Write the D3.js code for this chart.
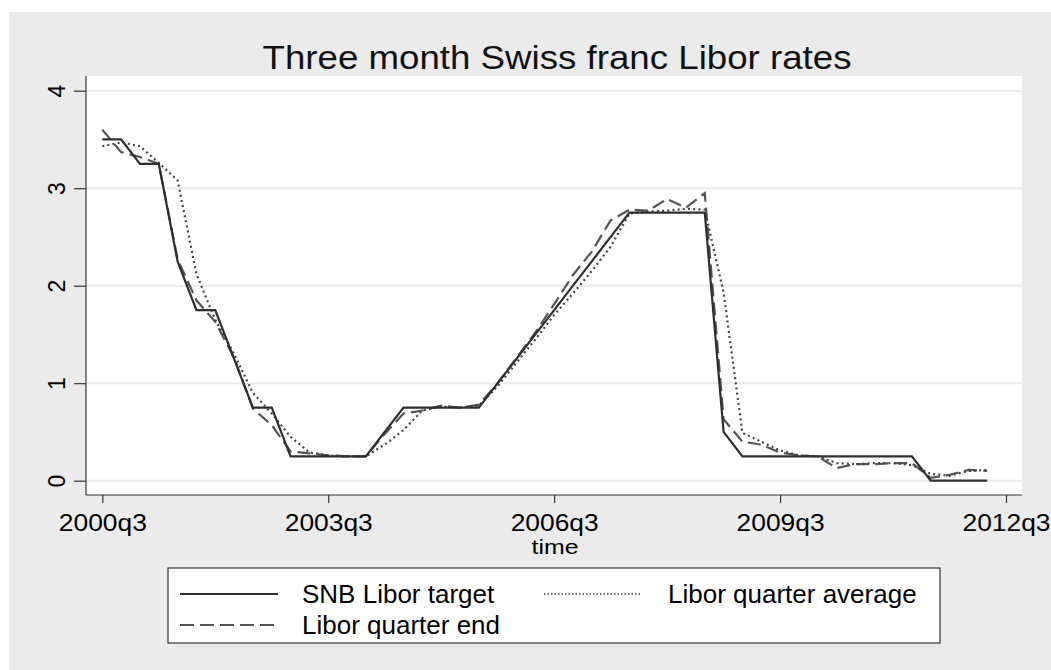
<!DOCTYPE html>
<html><head><meta charset="utf-8">
<script src="https://cdn.jsdelivr.net/npm/d3@7"></script>
<style>
body{margin:0;background:#fff;}
svg{display:block;font-family:"Liberation Sans",Arial,Helvetica,sans-serif;}
</style>
</head><body>
<svg id="chart" width="1051" height="670"></svg>
<script>
// ---------- data ----------
const quarters = ["2000q3","2000q4","2001q1","2001q2","2001q3","2001q4","2002q1","2002q2","2002q3","2002q4",
  "2003q1","2003q2","2003q3","2003q4","2004q1","2004q2","2004q3","2004q4","2005q1","2005q2",
  "2005q3","2005q4","2006q1","2006q2","2006q3","2006q4","2007q1","2007q2","2007q3","2007q4",
  "2008q1","2008q2","2008q3","2008q4","2009q1","2009q2","2009q3","2009q4","2010q1","2010q2",
  "2010q3","2010q4","2011q1","2011q2","2011q3","2011q4","2012q1","2012q2"];
const snbTarget = [3.5,3.5,3.25,3.25,2.25,1.75,1.75,1.25,0.75,0.75,
  0.25,0.25,0.25,0.25,0.25,0.5,0.75,0.75,0.75,0.75,
  0.75,1.0,1.25,1.5,1.75,2.0,2.25,2.5,2.75,2.75,
  2.75,2.75,2.75,0.5,0.25,0.25,0.25,0.25,0.25,0.25,
  0.25,0.25,0.25,0.25,0,0,0,0];
const liborAverage = [3.43,3.47,3.43,3.26,3.08,2.12,1.65,1.3,0.9,0.69,
  0.45,0.29,0.26,0.25,0.25,0.37,0.52,0.72,0.76,0.75,
  0.77,0.97,1.21,1.45,1.7,1.92,2.15,2.4,2.74,2.76,
  2.77,2.79,2.78,1.93,0.49,0.4,0.31,0.26,0.25,0.18,
  0.17,0.18,0.18,0.16,0.07,0.05,0.1,0.11];
const liborEnd = [3.6,3.37,3.32,3.25,2.27,1.85,1.63,1.26,0.74,0.57,
  0.3,0.28,0.26,0.25,0.25,0.48,0.69,0.72,0.77,0.75,
  0.78,1.0,1.26,1.52,1.81,2.11,2.35,2.67,2.78,2.77,
  2.89,2.8,2.95,0.63,0.4,0.37,0.29,0.26,0.25,0.13,
  0.17,0.17,0.18,0.18,0.03,0.06,0.11,0.1];
const xTickLabels = ["2000q3","2003q3","2006q3","2009q3","2012q3"];
const yTickValues = [0,1,2,3,4];
const seriesNames = ["SNB Libor target","Libor quarter average","Libor quarter end"];
const titleText = "Three month Swiss franc Libor rates";
const xAxisTitle = "time";

// ---------- layout ----------
const W = 1051, H = 670;
const plot = {left:86, right:1022, top:76, bottom:495};
const qIndex = s => (+s.slice(0,4) - 2000) * 4 + (+s.slice(5) - 3);

const svg = d3.select("#chart");
svg.append("rect").attr("x",9).attr("y",12).attr("width",W-9).attr("height",H-12).attr("fill","#ebebeb");
svg.append("rect").attr("x",plot.left).attr("y",plot.top)
  .attr("width",plot.right-plot.left).attr("height",plot.bottom-plot.top).attr("fill","#fff");

const x = d3.scaleLinear().domain([0,48]).range([102.3,1006]);
const y = d3.scaleLinear().domain([0,4]).range([480.7,90.7]);

// gridlines
svg.append("g").selectAll("line").data(yTickValues).join("line")
  .attr("x1",plot.left).attr("x2",plot.right)
  .attr("y1",d=>y(d)).attr("y2",d=>y(d))
  .attr("stroke","#eaeaea").attr("stroke-width",2);

// title
svg.append("text").attr("x",557).attr("y",69).attr("text-anchor","middle")
  .attr("font-size",34).attr("fill","#111")
  .attr("textLength",589).attr("lengthAdjust","spacingAndGlyphs")
  .text(titleText);

// y axis
const yAxis = d3.axisLeft(y).tickValues(yTickValues).tickSize(12).tickPadding(0).tickFormat(d3.format("d"));
const gy = svg.append("g").attr("transform",`translate(${plot.left},0)`).call(yAxis);
gy.select(".domain").attr("d",`M0,${plot.top}V${plot.bottom}`).attr("stroke","#333").attr("stroke-width",1.2);
gy.selectAll(".tick line").attr("stroke","#333").attr("stroke-width",1.2);
gy.selectAll(".tick text")
  .attr("x",null).attr("dy",null)
  .attr("transform","translate(-21,0) rotate(-90)")
  .attr("text-anchor","middle").attr("font-size",23).attr("fill","#000");

// x axis
const xAxis = d3.axisBottom(x).tickValues(xTickLabels.map(qIndex)).tickSize(8).tickPadding(0)
  .tickFormat((d,i)=>xTickLabels[i]);
const gx = svg.append("g").attr("transform",`translate(0,${plot.bottom})`).call(xAxis);
gx.select(".domain").attr("d",`M${plot.left},0H${plot.right}`).attr("stroke","#333").attr("stroke-width",1.2);
gx.selectAll(".tick line").attr("stroke","#333").attr("stroke-width",1.2);
gx.selectAll(".tick text").attr("y",36).attr("dy",null)
  .attr("font-size",23).attr("fill","#000")
  .attr("textLength",88).attr("lengthAdjust","spacingAndGlyphs");

svg.append("text").attr("x",555).attr("y",554).attr("text-anchor","middle")
  .attr("font-size",21).attr("fill","#000")
  .attr("textLength",47).attr("lengthAdjust","spacingAndGlyphs").text(xAxisTitle);

// lines
const styles = [
  {data:snbTarget, color:"#2e2e2e", width:2.2, dash:null},
  {data:liborAverage, color:"#444", width:2.2, dash:"2,3.2"},
  {data:liborEnd, color:"#555", width:2.2, dash:"13,6"}
];
const line = d3.line().x((d,i)=>x(qIndex(quarters[i]))).y(d=>y(d));
[2,1,0].forEach(k=>{
  const s = styles[k];
  svg.append("path").datum(s.data).attr("d",line)
    .attr("fill","none").attr("stroke",s.color).attr("stroke-width",s.width)
    .attr("stroke-dasharray",s.dash).attr("stroke-linejoin","miter");
});

// legend
const lg = svg.append("g");
lg.append("rect").attr("x",168).attr("y",568).attr("width",772).attr("height",75)
  .attr("fill","#fff").attr("stroke","#333").attr("stroke-width",1.2);
const legendItems = [
  {k:0, lx:180, ly:594, tx:302},
  {k:1, lx:544, ly:594, tx:668},
  {k:2, lx:180, ly:625, tx:302}
];
legendItems.forEach(it=>{
  const s = styles[it.k];
  lg.append("line").attr("x1",it.lx).attr("x2",it.lx+98).attr("y1",it.ly).attr("y2",it.ly)
    .attr("stroke",s.color).attr("stroke-width",it.k===1?1.5:2)
    .attr("stroke-dasharray",it.k===1?"1.5,2":(it.k===2?"14,6":null));
  lg.append("text").attr("x",it.tx).attr("y",it.ly+9).attr("font-size",26).attr("fill","#000")
    .text(seriesNames[it.k]);
});
</script>
</body></html>
